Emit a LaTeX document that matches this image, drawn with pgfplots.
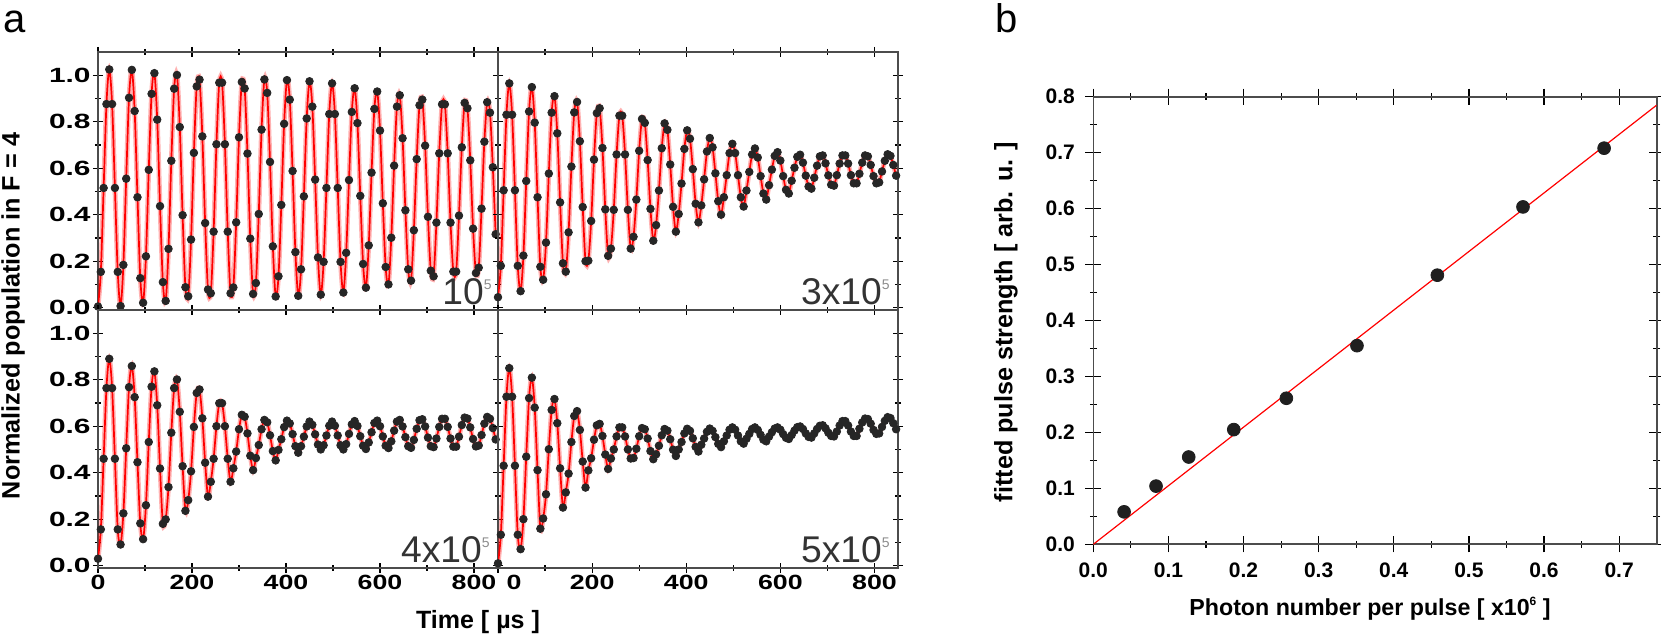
\documentclass[border=0pt]{standalone}
\usepackage{pgfplots}
\pgfplotsset{compat=1.18}
\usepackage{pgfplotstable}
\usepackage{graphicx}
\usepackage{fontspec}
\setmainfont{Liberation Sans}

% Panel a, 10^5
\pgfplotstableread[row sep=\\]{t y\\
0 0.005\\ 6 0.154\\ 12 0.515\\ 18 0.876\\ 24 1.025\\ 30 0.876\\ 36 0.515\\ 42 0.154\\
48 0.007\\ 54 0.184\\ 60 0.555\\ 66 0.903\\ 72 1.023\\ 78 0.846\\ 84 0.475\\ 90 0.127\\
96 0.021\\ 102 0.221\\ 108 0.593\\ 114 0.920\\ 120 1.009\\ 126 0.809\\ 132 0.437\\ 138 0.110\\
144 0.029\\ 150 0.253\\ 156 0.632\\ 162 0.942\\ 168 1.001\\ 174 0.777\\ 180 0.398\\ 186 0.088\\
192 0.049\\ 198 0.293\\ 204 0.666\\ 210 0.952\\ 216 0.981\\ 222 0.737\\ 228 0.364\\ 234 0.078\\
240 0.062\\ 246 0.327\\ 252 0.703\\ 258 0.968\\ 264 0.968\\ 270 0.703\\ 276 0.327\\ 282 0.062\\
288 0.087\\ 294 0.367\\ 300 0.733\\ 306 0.971\\ 312 0.943\\ 318 0.663\\ 324 0.297\\ 330 0.059\\
336 0.106\\ 342 0.403\\ 348 0.766\\ 354 0.982\\ 360 0.924\\ 366 0.627\\ 372 0.264\\ 378 0.048\\
384 0.135\\ 390 0.442\\ 396 0.791\\ 402 0.979\\ 408 0.895\\ 414 0.588\\ 420 0.239\\ 426 0.051\\
432 0.165\\ 438 0.479\\ 444 0.814\\ 450 0.974\\ 456 0.865\\ 462 0.551\\ 468 0.216\\ 474 0.056\\
480 0.197\\ 486 0.515\\ 492 0.833\\ 498 0.965\\ 504 0.833\\ 510 0.515\\ 516 0.197\\ 522 0.065\\
528 0.236\\ 534 0.549\\ 540 0.842\\ 546 0.944\\ 552 0.794\\ 558 0.481\\ 564 0.188\\ 570 0.086\\
576 0.268\\ 582 0.581\\ 588 0.855\\ 594 0.930\\ 600 0.762\\ 606 0.449\\ 612 0.175\\ 618 0.100\\
624 0.301\\ 630 0.611\\ 636 0.865\\ 642 0.914\\ 648 0.729\\ 654 0.419\\ 660 0.165\\ 666 0.116\\
672 0.333\\ 678 0.639\\ 684 0.871\\ 690 0.895\\ 696 0.697\\ 702 0.391\\ 708 0.159\\ 714 0.135\\
720 0.366\\ 726 0.664\\ 732 0.875\\ 738 0.875\\ 744 0.664\\ 750 0.366\\ 756 0.155\\ 762 0.155\\
768 0.396\\ 774 0.690\\ 780 0.881\\ 786 0.858\\ 792 0.634\\ 798 0.340\\ 804 0.149\\ 810 0.172\\
816 0.426\\ 822 0.714\\ 828 0.884\\ 834 0.839\\ 840 0.604\\ 846 0.316\\
}\dataA

% Panel a, 3x10^5
\pgfplotstableread[row sep=\\]{t y\\
0 0.045\\ 6 0.180\\ 12 0.505\\ 18 0.830\\ 24 0.965\\ 30 0.830\\ 36 0.505\\ 42 0.180\\
48 0.071\\ 54 0.224\\ 60 0.545\\ 66 0.844\\ 72 0.949\\ 78 0.796\\ 84 0.475\\ 90 0.176\\
96 0.120\\ 102 0.280\\ 108 0.577\\ 114 0.839\\ 120 0.910\\ 126 0.750\\ 132 0.453\\ 138 0.191\\
144 0.155\\ 150 0.324\\ 156 0.607\\ 162 0.840\\ 168 0.885\\ 174 0.716\\ 180 0.433\\ 186 0.200\\
192 0.202\\ 198 0.373\\ 204 0.637\\ 210 0.837\\ 216 0.858\\ 222 0.687\\ 228 0.423\\ 234 0.223\\
240 0.254\\ 246 0.421\\ 252 0.659\\ 258 0.826\\ 264 0.826\\ 270 0.659\\ 276 0.421\\ 282 0.254\\
288 0.305\\ 294 0.465\\ 300 0.675\\ 306 0.812\\ 312 0.795\\ 318 0.635\\ 324 0.425\\ 330 0.288\\
336 0.355\\ 342 0.504\\ 348 0.686\\ 354 0.793\\ 360 0.765\\ 366 0.616\\ 372 0.434\\ 378 0.327\\
384 0.403\\ 390 0.534\\ 396 0.683\\ 402 0.763\\ 408 0.727\\ 414 0.596\\ 420 0.447\\ 426 0.367\\
432 0.440\\ 438 0.552\\ 444 0.672\\ 450 0.730\\ 456 0.690\\ 462 0.578\\ 468 0.458\\ 474 0.400\\
480 0.475\\ 486 0.570\\ 492 0.665\\ 498 0.705\\ 504 0.665\\ 510 0.570\\ 516 0.475\\ 522 0.435\\
528 0.504\\ 534 0.584\\ 540 0.659\\ 546 0.685\\ 552 0.646\\ 558 0.566\\ 564 0.491\\ 570 0.465\\
576 0.527\\ 582 0.594\\ 588 0.653\\ 594 0.669\\ 600 0.633\\ 606 0.566\\ 612 0.507\\ 618 0.491\\
624 0.546\\ 630 0.602\\ 636 0.649\\ 642 0.658\\ 648 0.624\\ 654 0.568\\ 660 0.521\\ 666 0.512\\
672 0.559\\ 678 0.611\\ 684 0.651\\ 690 0.655\\ 696 0.621\\ 702 0.569\\ 708 0.529\\ 714 0.525\\
720 0.570\\ 726 0.620\\ 732 0.655\\ 738 0.655\\ 744 0.620\\ 750 0.570\\ 756 0.535\\ 762 0.535\\
768 0.576\\ 774 0.624\\ 780 0.655\\ 786 0.651\\ 792 0.614\\ 798 0.566\\ 804 0.535\\ 810 0.539\\
816 0.586\\ 822 0.632\\ 828 0.660\\ 834 0.653\\ 840 0.614\\ 846 0.568\\
}\dataB

% Panel a, 4x10^5
\pgfplotstableread[row sep=\\]{t y\\
0 0.030\\ 6 0.156\\ 12 0.460\\ 18 0.764\\ 24 0.890\\ 30 0.764\\ 36 0.460\\ 42 0.156\\
48 0.091\\ 54 0.225\\ 60 0.505\\ 66 0.768\\ 72 0.859\\ 78 0.725\\ 84 0.445\\ 90 0.182\\
96 0.114\\ 102 0.260\\ 108 0.532\\ 114 0.770\\ 120 0.836\\ 126 0.690\\ 132 0.418\\ 138 0.180\\
144 0.199\\ 150 0.338\\ 156 0.572\\ 162 0.764\\ 168 0.801\\ 174 0.662\\ 180 0.428\\ 186 0.236\\
192 0.282\\ 198 0.406\\ 204 0.597\\ 210 0.743\\ 216 0.758\\ 222 0.634\\ 228 0.443\\ 234 0.297\\
240 0.361\\ 246 0.460\\ 252 0.600\\ 258 0.699\\ 264 0.699\\ 270 0.600\\ 276 0.460\\ 282 0.361\\
288 0.419\\ 294 0.491\\ 300 0.587\\ 306 0.649\\ 312 0.641\\ 318 0.569\\ 324 0.473\\ 330 0.411\\
336 0.463\\ 342 0.519\\ 348 0.587\\ 354 0.627\\ 360 0.617\\ 366 0.561\\ 372 0.493\\ 378 0.453\\
384 0.498\\ 390 0.544\\ 396 0.596\\ 402 0.624\\ 408 0.612\\ 414 0.566\\ 420 0.514\\ 426 0.486\\
432 0.514\\ 438 0.555\\ 444 0.599\\ 450 0.620\\ 456 0.606\\ 462 0.565\\ 468 0.521\\ 474 0.500\\
480 0.518\\ 486 0.560\\ 492 0.602\\ 498 0.620\\ 504 0.602\\ 510 0.560\\ 516 0.518\\ 522 0.500\\
528 0.523\\ 534 0.567\\ 540 0.608\\ 546 0.622\\ 552 0.601\\ 558 0.557\\ 564 0.516\\ 570 0.502\\
576 0.530\\ 582 0.574\\ 588 0.614\\ 594 0.624\\ 600 0.600\\ 606 0.556\\ 612 0.516\\ 618 0.506\\
624 0.535\\ 630 0.581\\ 636 0.620\\ 642 0.627\\ 648 0.599\\ 654 0.553\\ 660 0.514\\ 666 0.507\\
672 0.541\\ 678 0.589\\ 684 0.626\\ 690 0.630\\ 696 0.599\\ 702 0.551\\ 708 0.514\\ 714 0.510\\
720 0.547\\ 726 0.597\\ 732 0.632\\ 738 0.632\\ 744 0.597\\ 750 0.547\\ 756 0.512\\ 762 0.512\\
768 0.555\\ 774 0.605\\ 780 0.637\\ 786 0.633\\ 792 0.595\\ 798 0.545\\ 804 0.513\\ 810 0.517\\
816 0.562\\ 822 0.611\\ 828 0.640\\ 834 0.632\\ 840 0.592\\ 846 0.543\\
}\dataC

% Panel a, 5x10^5
\pgfplotstableread[row sep=\\]{t y\\
0 0.010\\ 6 0.133\\ 12 0.430\\ 18 0.727\\ 24 0.850\\ 30 0.727\\ 36 0.430\\ 42 0.133\\
48 0.071\\ 54 0.200\\ 60 0.469\\ 66 0.721\\ 72 0.809\\ 78 0.680\\ 84 0.411\\ 90 0.159\\
96 0.203\\ 102 0.307\\ 108 0.501\\ 114 0.670\\ 120 0.717\\ 126 0.613\\ 132 0.419\\ 138 0.250\\
144 0.315\\ 150 0.396\\ 156 0.532\\ 162 0.644\\ 168 0.665\\ 174 0.584\\ 180 0.448\\ 186 0.336\\
192 0.410\\ 198 0.462\\ 204 0.542\\ 210 0.604\\ 216 0.610\\ 222 0.558\\ 228 0.478\\ 234 0.416\\
240 0.461\\ 246 0.500\\ 252 0.556\\ 258 0.595\\ 264 0.595\\ 270 0.556\\ 276 0.500\\ 282 0.461\\
288 0.463\\ 294 0.503\\ 300 0.557\\ 306 0.592\\ 312 0.587\\ 318 0.547\\ 324 0.493\\ 330 0.458\\
336 0.479\\ 342 0.516\\ 348 0.561\\ 354 0.588\\ 360 0.581\\ 366 0.544\\ 372 0.499\\ 378 0.472\\
384 0.500\\ 390 0.532\\ 396 0.569\\ 402 0.589\\ 408 0.580\\ 414 0.548\\ 420 0.511\\ 426 0.491\\
432 0.520\\ 438 0.547\\ 444 0.576\\ 450 0.590\\ 456 0.580\\ 462 0.553\\ 468 0.524\\ 474 0.510\\
480 0.535\\ 486 0.560\\ 492 0.585\\ 498 0.595\\ 504 0.585\\ 510 0.560\\ 516 0.535\\ 522 0.525\\
528 0.546\\ 534 0.567\\ 540 0.588\\ 546 0.595\\ 552 0.584\\ 558 0.563\\ 564 0.542\\ 570 0.535\\
576 0.555\\ 582 0.574\\ 588 0.590\\ 594 0.595\\ 600 0.585\\ 606 0.566\\ 612 0.550\\ 618 0.545\\
624 0.562\\ 630 0.581\\ 636 0.596\\ 642 0.599\\ 648 0.588\\ 654 0.569\\ 660 0.554\\ 666 0.551\\
672 0.569\\ 678 0.588\\ 684 0.602\\ 690 0.604\\ 696 0.591\\ 702 0.572\\ 708 0.558\\ 714 0.556\\
720 0.577\\ 726 0.603\\ 732 0.622\\ 738 0.622\\ 744 0.603\\ 750 0.577\\ 756 0.558\\ 762 0.558\\
768 0.589\\ 774 0.616\\ 780 0.633\\ 786 0.631\\ 792 0.611\\ 798 0.584\\ 804 0.567\\ 810 0.569\\
816 0.597\\ 822 0.623\\ 828 0.639\\ 834 0.635\\ 840 0.613\\ 846 0.587\\
}\dataD

% Panel b
\pgfplotstableread[row sep=\\]{x y\\
0.041 0.058\\ 0.0835 0.104\\ 0.127 0.156\\ 0.187 0.205\\ 0.257 0.261\\
0.351 0.355\\ 0.458 0.481\\ 0.572 0.603\\ 0.680 0.708\\
}\dataE

\newcommand{\numlab}[2]{{\fontsize{18.6}{20}\selectfont\color{black!80}#1}\raisebox{7.5pt}{\fontsize{7}{7}\selectfont\color{black!45}#2}}
\newcommand{\sx}[1]{\scalebox{1.3}[1]{#1}}

\pgfplotsset{
  /pgf/number format/assume math mode=true,
  pa/.style={
    scale only axis, width=200pt, height=129pt, anchor=south west,
    xmin=0, xmax=851, ymin=-0.01, ymax=1.1,
    xtick={0,200,400,600,800}, ytick={0,0.2,0.4,0.6,0.8,1.0},
    minor x tick num=1, minor y tick num=1,
    tick align=center, major tick length=5pt, minor tick length=3pt,
    axis line style={black!70, line width=0.8pt},
    every tick/.style={black, line width=0.6pt},
    tick label style={font=\fontsize{10.3}{12}\selectfont\bfseries},
    xticklabel style={inner sep=1pt},
    yticklabel style={inner sep=1pt},
  },
  ylab/.style={yticklabel={\scalebox{1.45}[1]{\pgfmathprintnumber[fixed,fixed zerofill,precision=1]{\tick}}}},
  dots/.style={only marks, mark=*, mark size=1.9pt, black!85},
  halo/.style={red, opacity=0.3, line width=2.4pt, smooth},
  fit/.style={red, line width=0.85pt, smooth},
}

\begin{document}
\begin{tikzpicture}
\useasboundingbox (0,0) rectangle (830.5pt,318pt);

% top left
\begin{axis}[pa, at={(49pt,163pt)}, ylab, xticklabels={}]
\addplot[dots] table {\dataA};
\addplot[halo] table {\dataA};
\addplot[fit] table {\dataA};
\node[anchor=base east, inner sep=0pt] at (rel axis cs:0.985,0.02) {\numlab{10}{5}};
\end{axis}

% top right
\begin{axis}[pa, at={(249pt,163pt)}, xmax=850, xticklabels={}, yticklabels={}]
\addplot[dots] table {\dataB};
\addplot[halo] table {\dataB};
\addplot[fit] table {\dataB};
\node[anchor=base east, inner sep=0pt] at (rel axis cs:0.98,0.02) {\numlab{3x10}{5}};
\end{axis}

% bottom left
\begin{axis}[pa, at={(49pt,34pt)}, ylab,
  xticklabels={\sx{0},\sx{200},\sx{400},\sx{600},\sx{800}}]
\addplot[dots] table {\dataC};
\addplot[halo] table {\dataC};
\addplot[fit] table {\dataC};
\node[anchor=base east, inner sep=0pt] at (rel axis cs:0.98,0.02) {\numlab{4x10}{5}};
\end{axis}

% bottom right
\begin{axis}[pa, at={(249pt,34pt)}, xmax=850, yticklabels={},
  xticklabels={\hspace*{16pt}\sx{0},\sx{200},\sx{400},\sx{600},\sx{800}}]
\addplot[dots] table {\dataD};
\addplot[halo] table {\dataD};
\addplot[fit] table {\dataD};
\node[anchor=base east, inner sep=0pt] at (rel axis cs:0.98,0.02) {\numlab{5x10}{5}};
\end{axis}

% panel b
\begin{axis}[scale only axis, width=281.7pt, height=223.8pt, at={(546.65pt,45.85pt)}, anchor=south west,
  xmin=0, xmax=0.75, ymin=0, ymax=0.8,
  xtick={0,0.1,0.2,0.3,0.4,0.5,0.6,0.7}, ytick={0,0.1,0.2,0.3,0.4,0.5,0.6,0.7,0.8},
  minor x tick num=1, minor y tick num=1,
  tick align=center, major tick length=8pt, minor tick length=3.5pt,
  axis line style={black!70, line width=0.8pt},
  every tick/.style={black, line width=0.6pt},
  tick label style={font=\fontsize{10.5}{12}\selectfont\bfseries},
  xticklabel={\pgfmathprintnumber[fixed,fixed zerofill,precision=1]{\tick}},
  yticklabel={\pgfmathprintnumber[fixed,fixed zerofill,precision=1]{\tick}},
  xticklabel style={inner sep=1pt, yshift=-4pt},
  yticklabel style={inner sep=1pt, xshift=-4pt},
]
\addplot[red, line width=0.6pt] coordinates {(0,0) (0.75,0.785)};
\addplot[only marks, mark=*, mark size=3.2pt, black!88] table {\dataE};
\end{axis}

% texts
\node[anchor=base west, inner sep=0pt, font=\fontsize{20}{22}\selectfont] at (1.5pt,301.5pt) {a};
\node[anchor=base west, inner sep=0pt, font=\fontsize{20}{22}\selectfont] at (497.5pt,301.5pt) {b};
\node[rotate=90, font=\fontsize{12.6}{14}\selectfont\bfseries] at (6.5pt,160pt) {Normalized population in F = 4};
\node[font=\fontsize{12.5}{14}\selectfont\bfseries] at (239pt,7pt) {Time [ µs ]};
\node[rotate=90, font=\fontsize{12.6}{14}\selectfont\bfseries] at (503pt,157pt) {fitted pulse strength [ arb. u. ]};
\node[font=\fontsize{11.6}{14}\selectfont\bfseries] at (685pt,13.5pt) {Photon number per pulse [ x10\raisebox{5pt}{\fontsize{6}{6}\selectfont 6} ]};
\end{tikzpicture}
\end{document}
